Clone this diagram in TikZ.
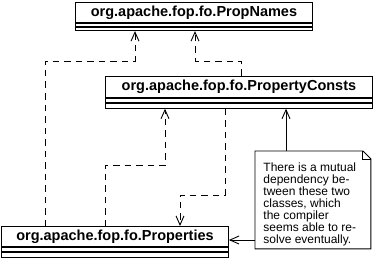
\documentclass[tikz,border=0pt]{standalone}
\usepackage{fontspec}
\setmainfont{Liberation Sans}
\usetikzlibrary{arrows.meta}
\begin{document}
\begin{tikzpicture}[x=1pt,y=-1pt, line width=0.9pt,
  classname/.style={draw, minimum height=20pt, inner sep=0pt, anchor=north west,
    font=\fontsize{14.5}{16}\selectfont\bfseries},
  comp/.style={draw, minimum height=4.5pt, inner sep=0pt, anchor=north west},
  dep/.style={dash pattern=on 6.5pt off 5pt, -{Straight Barb[length=9pt,width=8pt]}},
  noteline/.style={-{Straight Barb[length=9pt,width=8pt]}},
  notetext/.style={anchor=north west, align=left, inner sep=0pt,
    font=\fontsize{12}{12}\selectfont}]
\useasboundingbox (0,0) rectangle (374,259);

% PropNames
\node[classname, minimum width=237pt] (pn) at (75,2) {org.apache.fop.fo.PropNames};
\node[comp, minimum width=237pt, minimum height=3.2pt] (pna) at (pn.south west) {};
\node[comp, minimum width=237pt, minimum height=3.2pt] (pno) at (pna.south west) {};

% PropertyConsts
\node[classname, minimum width=267pt, minimum height=21pt] (pc) at (105,76) {org.apache.fop.fo.PropertyConsts};
\node[comp, minimum width=267pt] (pca) at (pc.south west) {};
\node[comp, minimum width=267pt] (pco) at (pca.south west) {};

% Properties
\node[classname, minimum width=227pt] (pr) at (1,226) {org.apache.fop.fo.Properties};
\node[comp, minimum width=227pt] (pra) at (pr.south west) {};
\node[comp, minimum width=227pt] (pro) at (pra.south west) {};

% Note
\node[minimum width=115pt, minimum height=97pt, inner sep=0pt, anchor=north west] (note) at (255,151) {};
\draw (note.north west) -- ([xshift=-8pt]note.north east) -- ([yshift=-8pt]note.north east)
  -- (note.south east) -- (note.south west) -- cycle;
\draw ([xshift=-8pt]note.north east) -- ([xshift=-8pt,yshift=-8pt]note.north east) -- ([yshift=-8pt]note.north east);
\node[notetext] (nt) at (263,162.5) {There is a mutual\\dependency be-\\tween these two\\classes, which\\the compiler\\seems able to re-\\solve eventually.};

% Dependencies
\draw[dep] (45,0 |- pr.north) -- (45,61) -- (135,61) -- (135,0 |- pno.south);
\draw[dep] (241,0 |- pc.north) -- (241,61) -- (195,61) -- (195,0 |- pno.south);
\draw[dep] (105,0 |- pr.north) -- (105,165) -- (165,165) -- (165,0 |- pco.south);
\draw[dep] (225,0 |- pco.south) -- (225,195) -- (180,195) -- (180,0 |- pr.north);

% Note links
\draw[noteline] (286,0 |- note.north) -- (286,0 |- pco.south);
\draw[noteline] (note.west |- 0,240) -- (pr.east |- 0,240);
\end{tikzpicture}
\end{document}
